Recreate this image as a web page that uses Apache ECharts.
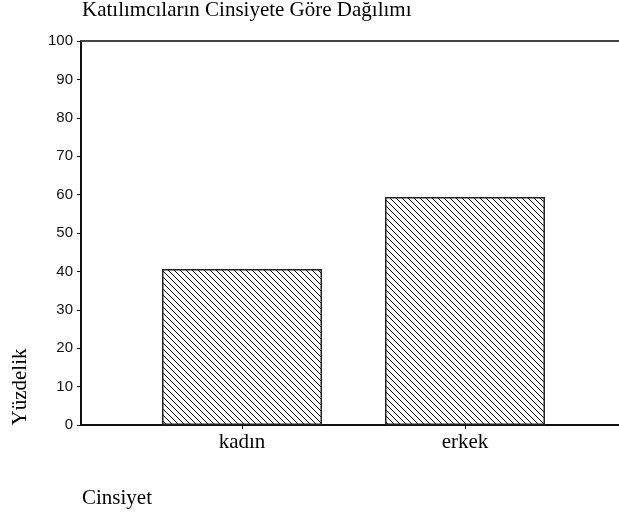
<!DOCTYPE html>
<html>
<head>
<meta charset="utf-8">
<script src="https://cdn.jsdelivr.net/npm/echarts@6/dist/echarts.min.js"></script>
<style>
  html, body { margin: 0; padding: 0; background: #fff; }
  #main { width: 619px; height: 518px; }
</style>
</head>
<body>
<div id="main"></div>
<script>
// veriler
var categories = ['kadın', 'erkek'];
var percents = [40.6, 59.4];
var yMin = 0, yMax = 100, yStep = 10;

var serif = 'Liberation Serif, Times New Roman, serif';
var sans = 'Liberation Sans, Arial, sans-serif';

// tarama deseni (\\\\ çizgileri)
function hatch() {
    var c = document.createElement('canvas');
    c.width = 6; c.height = 6;
    var ctx = c.getContext('2d');
    ctx.fillStyle = '#fff';
    ctx.fillRect(0, 0, 6, 6);
    ctx.fillStyle = '#000';
    for (var i = 0; i < 6; i++) ctx.fillRect(i, i, 1, 1);
    return c;
}

var myChart = echarts.init(document.getElementById('main'), null, {renderer: 'canvas'});
var option = {
    backgroundColor: '#fff',
    animation: false,
    title: {
        text: 'Katılımcıların Cinsiyete Göre Dağılımı',
        left: 82,
        top: 0,
        padding: 0,
        textStyle: {fontFamily: serif, fontSize: 21, fontWeight: 'normal', color: '#000'}
    },
    graphic: [
        {
            type: 'text', x: 20, y: 387, rotation: Math.PI / 2,
            style: {text: 'Yüzdelik', font: '21px ' + serif, fill: '#000', align: 'center', verticalAlign: 'middle'}
        },
        {
            type: 'text', left: 82, top: 488,
            style: {text: 'Cinsiyet', font: '21px ' + serif, fill: '#000'}
        }
    ],
    grid: [
        {left: 81, right: 0, top: 41, bottom: 93},
        {left: 130.5, right: 42.5, top: 41, bottom: 93}
    ],
    xAxis: [
        {
            gridIndex: 0, type: 'value', min: 0, max: 1, position: 'bottom',
            axisLine: {lineStyle: {color: '#111', width: 2}},
            axisTick: {show: false}, axisLabel: {show: false}, splitLine: {show: false}
        },
        {
            gridIndex: 0, type: 'value', min: 0, max: 1, position: 'top',
            axisLine: {lineStyle: {color: '#444', width: 2}},
            axisTick: {show: false}, axisLabel: {show: false}, splitLine: {show: false}
        },
        {
            gridIndex: 1, type: 'category', data: categories,
            axisLine: {show: false},
            axisTick: {show: true, alignWithLabel: true, length: 4, lineStyle: {color: '#111', width: 1}},
            axisLabel: {margin: 7, fontFamily: serif, fontSize: 21, color: '#000'}
        }
    ],
    yAxis: [
        {
            gridIndex: 0, type: 'value', min: yMin, max: yMax, interval: yStep,
            axisLine: {show: true, lineStyle: {color: '#111', width: 2}},
            axisTick: {show: true, length: 4, lineStyle: {color: '#111', width: 1}},
            axisLabel: {margin: 8, fontFamily: sans, fontSize: 15, color: '#111'},
            splitLine: {show: false}
        },
        {
            gridIndex: 1, type: 'value', min: yMin, max: yMax, show: false
        }
    ],
    series: [
        {
            type: 'bar',
            xAxisIndex: 2,
            yAxisIndex: 1,
            data: percents,
            barWidth: 160,
            itemStyle: {
                color: {image: hatch(), repeat: 'repeat'},
                borderColor: '#222',
                borderWidth: 1.5
            }
        }
    ]
};

myChart.setOption(option);
</script>
</body>
</html>
